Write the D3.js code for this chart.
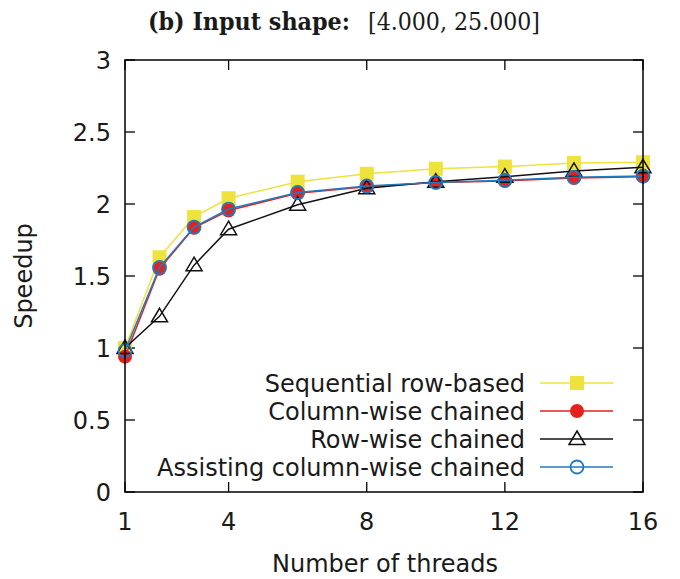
<!DOCTYPE html>
<html>
<head>
<meta charset="utf-8">
<script src="https://cdn.jsdelivr.net/npm/d3@7"></script>
<style>
  html, body { margin: 0; padding: 0; background: #fff; }
  svg { display: block; }
  text { font-family: "DejaVu Sans", sans-serif; fill: #1a1a1a; }
</style>
</head>
<body>
<svg id="chart" width="680" height="579"></svg>
<script>
const threads = [1, 2, 3, 4, 6, 8, 10, 12, 14, 16];
const sequentialRowBased = [1.00, 1.63, 1.91, 2.04, 2.155, 2.21, 2.245, 2.26, 2.285, 2.29];
const columnWiseChained = [0.94, 1.55, 1.835, 1.955, 2.075, 2.12, 2.15, 2.16, 2.18, 2.19];
const rowWiseChained = [1.00, 1.22, 1.575, 1.825, 1.995, 2.11, 2.155, 2.19, 2.23, 2.255];
const assistingColumnWiseChained = [0.98, 1.56, 1.84, 1.965, 2.08, 2.125, 2.15, 2.165, 2.185, 2.195];

const seriesNames = ["Sequential row-based", "Column-wise chained", "Row-wise chained", "Assisting column-wise chained"];
const xTicks = [1, 4, 8, 12, 16];
const yTicks = [0, 0.5, 1, 1.5, 2, 2.5, 3];
const titleBold = "(b) Input shape:";
const titleMath = "[4.000, 25.000]";
const xLabel = "Number of threads";
const yLabel = "Speedup";

const series = [
  { name: seriesNames[0], values: sequentialRowBased, color: "#eee23c", marker: "square" },
  { name: seriesNames[1], values: columnWiseChained, color: "#e5211d", marker: "disc" },
  { name: seriesNames[2], values: rowWiseChained, color: "#111111", marker: "triangle" },
  { name: seriesNames[3], values: assistingColumnWiseChained, color: "#1f7bbf", marker: "circle" }
];

const svg = d3.select("#chart");
const L = 125, R = 643, T = 60, B = 492;
const x = d3.scaleLinear().domain([1, 16]).range([L, R]);
const y = d3.scaleLinear().domain([0, 3]).range([B, T]);
const FS = "24px";

// Title
const title = svg.append("text").attr("y", 30);
title.append("tspan").attr("x", 148)
  .style("font-family", "'DejaVu Serif', serif").style("font-weight", "bold").style("font-size", "25px")
  .attr("textLength", 202).attr("lengthAdjust", "spacingAndGlyphs")
  .text(titleBold);
title.append("tspan").attr("x", 368)
  .style("font-family", "'DejaVu Serif', serif").style("font-size", "25px")
  .attr("textLength", 172).attr("lengthAdjust", "spacingAndGlyphs")
  .text(titleMath);

// Ticks (inward, mirrored)
const tickLen = 10;
const tickG = svg.append("g").attr("stroke", "#000").attr("stroke-width", 1.3);
yTicks.forEach(v => {
  tickG.append("line").attr("x1", L).attr("x2", L + tickLen).attr("y1", y(v)).attr("y2", y(v));
  tickG.append("line").attr("x1", R).attr("x2", R - tickLen).attr("y1", y(v)).attr("y2", y(v));
});
xTicks.forEach(v => {
  tickG.append("line").attr("x1", x(v)).attr("x2", x(v)).attr("y1", B).attr("y2", B - tickLen);
  tickG.append("line").attr("x1", x(v)).attr("x2", x(v)).attr("y1", T).attr("y2", T + tickLen);
});

// Tick labels
svg.append("g").selectAll("text").data(yTicks).join("text")
  .attr("x", L - 14).attr("y", d => y(d)).attr("dy", "0.36em")
  .attr("text-anchor", "end").style("font-size", FS)
  .text(d => d3.format("~g")(d));
svg.append("g").selectAll("text").data(xTicks).join("text")
  .attr("x", d => x(d)).attr("y", 530)
  .attr("text-anchor", "middle").style("font-size", FS)
  .text(d => d);

// Axis labels
svg.append("text").attr("x", (L + R) / 2 + 1).attr("y", 572)
  .attr("text-anchor", "middle").style("font-size", FS).text(xLabel);
svg.append("text").attr("transform", `translate(32,${(T + B) / 2}) rotate(-90)`)
  .attr("text-anchor", "middle").style("font-size", FS).text(yLabel);

// Marker drawing
function drawMarker(g, type, color, cx, cy) {
  if (type === "square") {
    g.append("rect").attr("x", cx - 7).attr("y", cy - 7).attr("width", 14).attr("height", 14)
      .attr("fill", color);
  } else if (type === "disc") {
    g.append("circle").attr("cx", cx).attr("cy", cy).attr("r", 7).attr("fill", color);
  } else if (type === "circle") {
    g.append("circle").attr("cx", cx).attr("cy", cy).attr("r", 6.5)
      .attr("fill", "none").attr("stroke", color).attr("stroke-width", 1.8);
  } else if (type === "triangle") {
    const p = d3.path();
    p.moveTo(cx, cy - 8); p.lineTo(cx + 8, cy + 5.5); p.lineTo(cx - 8, cy + 5.5); p.closePath();
    g.append("path").attr("d", p.toString()).attr("fill", "none")
      .attr("stroke", color).attr("stroke-width", 1.5).attr("stroke-linejoin", "miter");
  }
}

// Series
const line = d3.line().x(d => x(d[0])).y(d => y(d[1]));
const plotG = svg.append("g");
series.forEach(s => {
  const pts = threads.map((t, i) => [t, s.values[i]]);
  const g = plotG.append("g");
  g.append("path").attr("d", line(pts)).attr("fill", "none")
    .attr("stroke", s.color).attr("stroke-width", 1.5);
  pts.forEach(p => drawMarker(g, s.marker, s.color, x(p[0]), y(p[1])));
});

// Frame
svg.append("rect").attr("x", L).attr("y", T).attr("width", R - L).attr("height", B - T)
  .attr("fill", "none").attr("stroke", "#000").attr("stroke-width", 1.5);

// Legend
const legendY0 = 383, legendDY = 28;
const lg = svg.append("g");
series.forEach((s, i) => {
  const ly = legendY0 + i * legendDY;
  lg.append("text").attr("x", 525).attr("y", ly).attr("dy", "0.36em")
    .attr("text-anchor", "end").style("font-size", FS).text(s.name);
  lg.append("line").attr("x1", 540).attr("x2", 613).attr("y1", ly).attr("y2", ly)
    .attr("stroke", s.color).attr("stroke-width", 1.5);
  drawMarker(lg, s.marker, s.color, 577, ly);
});
</script>
</body>
</html>
